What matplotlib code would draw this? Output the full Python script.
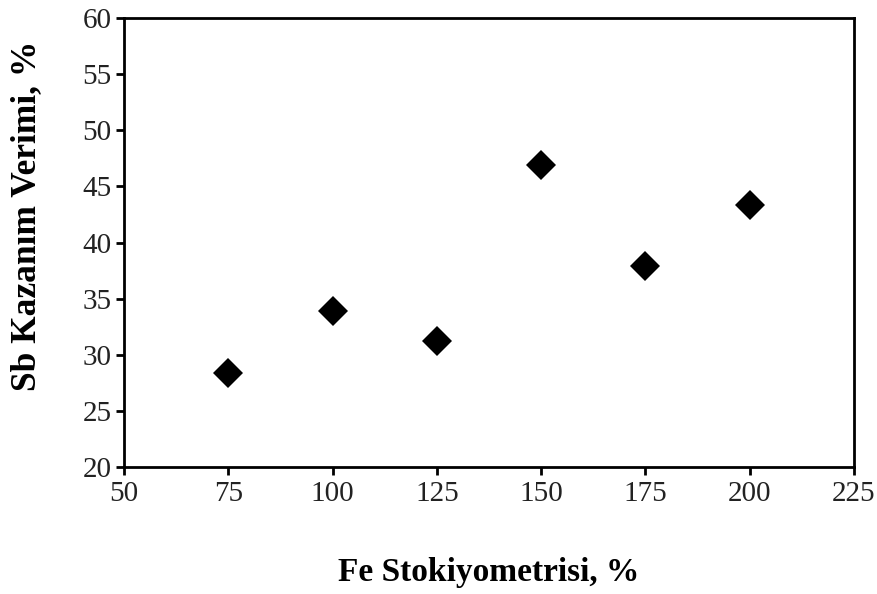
import matplotlib

matplotlib.use("Agg")
import matplotlib.pyplot as plt

# Fe stoichiometry (%) vs Sb recovery (%)
fe_stoich = [75, 100, 125, 150, 175, 200]
sb_recovery = [28.4, 33.9, 31.2, 46.9, 37.9, 43.3]

x_ticks = [50, 75, 100, 125, 150, 175, 200, 225]
y_ticks = [20, 25, 30, 35, 40, 45, 50, 55, 60]

plt.rcParams["font.family"] = ["Liberation Serif", "DejaVu Serif"]

fig = plt.figure(figsize=(8.78, 5.94), dpi=100)
ax = fig.add_axes([0.1412, 0.2138, 0.8315, 0.7559])

ax.plot(fe_stoich, sb_recovery, linestyle="none", marker="D",
        markersize=15, color="black", markeredgewidth=0)

ax.set_xlim(50, 225)
ax.set_ylim(20, 60)
ax.set_xticks(x_ticks)
ax.set_yticks(y_ticks)
ax.tick_params(direction="out", length=6, width=2, labelsize=21,
               top=False, right=False, labelcolor="#222222")
ax.tick_params(axis="x", pad=4)
ax.tick_params(axis="y", pad=3)
for s in ax.spines.values():
    s.set_linewidth(2)

ax.set_xlabel("Fe Stokiyometrisi, %", fontsize=24, fontweight="bold", labelpad=36)
ax.set_ylabel("Sb Kazanım Verimi, %", fontsize=25.5, fontweight="bold", labelpad=28)
ax.yaxis.label.set_y(0.559)

fig.savefig("out.png", dpi=100)
